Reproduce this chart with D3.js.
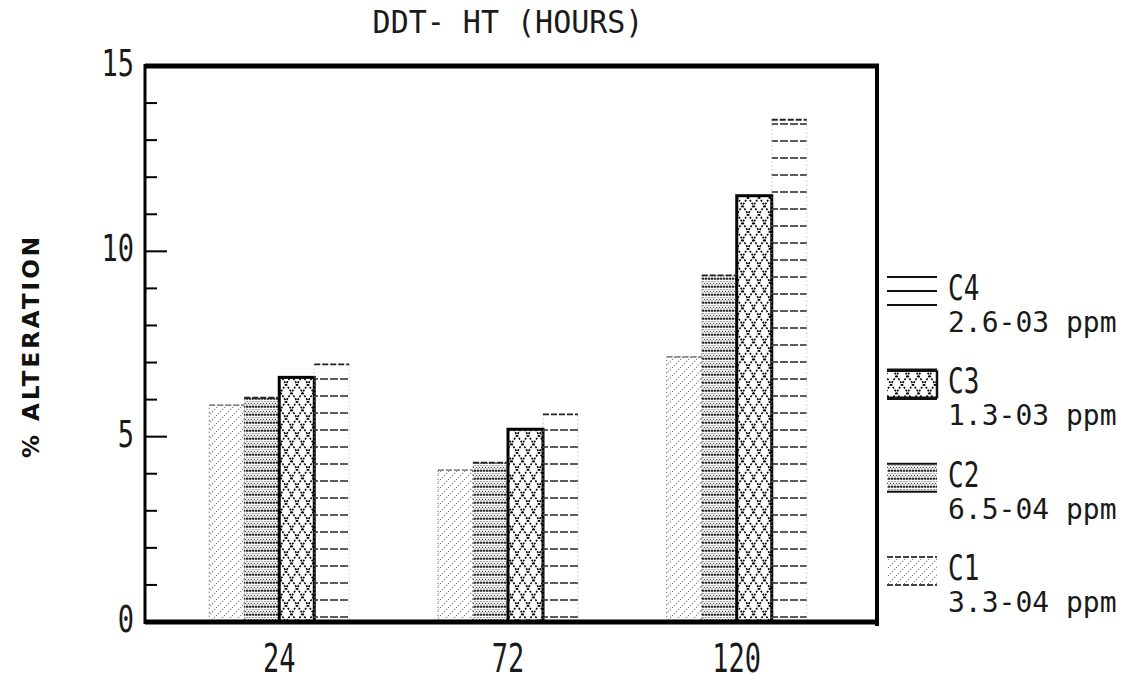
<!DOCTYPE html>
<html><head><meta charset="utf-8">
<script src="https://cdn.jsdelivr.net/npm/d3@7"></script>
<style>body{margin:0;background:#fff}</style></head>
<body><svg id="c" width="1139" height="682"></svg>
<script>
// ---- data ----
const categories = ["24", "72", "120"];
const series = ["C1", "C2", "C3", "C4"];
const concentrations = ["3.3-04", "6.5-04", "1.3-03", "2.6-03"];
const C1 = [5.85, 4.1, 7.15];
const C2 = [6.05, 4.3, 9.35];
const C3 = [6.6, 5.2, 11.5];
const C4 = [6.95, 5.6, 13.55];
const yTickLabels = [0, 5, 10, 15];
const yMinorTicks = [0,1,2,3,4,5,6,7,8,9,10,11,12,13,14,15];
const title = "DDT- HT (HOURS)";
const yLabel = "% ALTERATION";
const unit = "ppm";

const values = {C1, C2, C3, C4};

const svg = d3.select("#c");
const L = 145, R = 877, T = 66, B = 622;
const mono = "'DejaVu Sans Mono', monospace";

const x = d3.scalePoint().domain(categories).range([L - 3, R - 3]).padding(0.6);
const xs = d3.scaleBand().domain(series).range([-70, 70]);
const y = d3.scaleLinear().domain([0, 15]).range([B, T]);

// ---- patterns ----
const defs = svg.append("defs");
// C1: sparse diagonal dots
const p1 = defs.append("pattern").attr("id", "pC1").attr("patternUnits", "userSpaceOnUse")
  .attr("width", 8).attr("height", 8);
[[0.5,7.5],[2.5,5.5],[4.5,3.5],[6.5,1.5]].forEach(d =>
  p1.append("circle").attr("cx", d[0]).attr("cy", d[1]).attr("r", 0.7).attr("fill", "#888"));
// C2: dense stipple with dark rows
const p2 = defs.append("pattern").attr("id", "pC2").attr("patternUnits", "userSpaceOnUse")
  .attr("width", 6).attr("height", 8).attr("y", B);
p2.append("rect").attr("x", 0).attr("y", 0).attr("width", 2.4).attr("height", 1.7).attr("fill", "#222");
p2.append("rect").attr("x", 3).attr("y", 0).attr("width", 2.4).attr("height", 1.7).attr("fill", "#222");
[[1,3.6],[4,3.6],[2.5,5.4],[5.5,5.4],[1,7],[4,7]].forEach(d =>
  p2.append("circle").attr("cx", d[0]).attr("cy", d[1]).attr("r", 0.7).attr("fill", "#444"));
// C3: dotted diamond cross-hatch
const p3 = defs.append("pattern").attr("id", "pC3").attr("patternUnits", "userSpaceOnUse")
  .attr("width", 11).attr("height", 17).attr("y", B);
p3.append("rect").attr("width", 11).attr("height", 17).attr("fill", "#fff");
p3.append("path").attr("d", "M0,0L11,17M11,0L0,17").attr("stroke", "#000")
  .attr("stroke-width", 1.6).attr("stroke-dasharray", "2,1.4").attr("fill", "none");
// C4: horizontal lines
const p4 = defs.append("pattern").attr("id", "pC4").attr("patternUnits", "userSpaceOnUse")
  .attr("width", 10).attr("height", 17).attr("y", B);
p4.append("line").attr("x1", 0).attr("x2", 10).attr("y1", 12).attr("y2", 12)
  .attr("stroke", "#333").attr("stroke-width", 1.6).attr("stroke-dasharray", "8,2");

// ---- bars ----
const bars = [];
categories.forEach((c, i) => series.forEach(s => bars.push({c, s, v: values[s][i]})));

const g = svg.append("g");
g.selectAll("rect.bar").data(bars).join("rect")
  .attr("class", "bar")
  .attr("x", d => x(d.c) + xs(d.s))
  .attr("width", xs.bandwidth())
  .attr("y", d => y(d.v))
  .attr("height", d => y(0) - y(d.v))
  .attr("fill", d => `url(#p${d.s})`)
  .attr("stroke", d => d.s === "C3" ? "#000" : (d.s === "C4" ? "#aaa" : "#666"))
  .attr("stroke-width", d => d.s === "C3" ? 3 : 1)
  .attr("stroke-dasharray", d => d.s === "C3" ? null : "1,3");

// top edges for C1/C2/C4
g.selectAll("line.top").data(bars.filter(d => d.s !== "C3")).join("line")
  .attr("x1", d => x(d.c) + xs(d.s))
  .attr("x2", d => x(d.c) + xs(d.s) + xs.bandwidth())
  .attr("y1", d => y(d.v)).attr("y2", d => y(d.v))
  .attr("stroke", d => d.s === "C1" ? "#666" : "#222")
  .attr("stroke-width", d => d.s === "C1" ? 1.2 : 1.8)
  .attr("stroke-dasharray", "6,2");

// ---- frame ----
svg.append("line").attr("x1", L).attr("x2", R + 2).attr("y1", T).attr("y2", T)
  .attr("stroke", "#000").attr("stroke-width", 5);
svg.append("line").attr("x1", L).attr("x2", R + 2).attr("y1", B).attr("y2", B)
  .attr("stroke", "#000").attr("stroke-width", 5);
svg.append("line").attr("x1", R).attr("x2", R).attr("y1", T - 2).attr("y2", B + 4)
  .attr("stroke", "#000").attr("stroke-width", 4);
svg.append("line").attr("x1", L).attr("x2", L).attr("y1", T - 2).attr("y2", B + 2)
  .attr("stroke", "#000").attr("stroke-width", 3);

// y ticks (inward)
svg.selectAll("line.ytick").data(yMinorTicks).join("line")
  .attr("x1", L).attr("x2", d => L + (d % 5 === 0 ? 22 : 12))
  .attr("y1", d => y(d)).attr("y2", d => y(d))
  .attr("stroke", "#000").attr("stroke-width", 2);

function stretched(sel, text, tx, ty, size, sy, anchor) {
  sel.append("text").attr("transform", `translate(${tx},${ty}) scale(1,${sy})`)
    .attr("font-family", mono).attr("font-size", size).attr("fill", "#1a1a1a")
    .attr("text-anchor", anchor || "start").text(text);
}

// y tick labels
yTickLabels.forEach(v => stretched(svg, String(v), 134, y(v) + 10, 27, 1.35, "end"));

// x labels
categories.forEach(c => stretched(svg, c, x(c), 672, 27, 1.45, "middle"));

// title
stretched(svg, title, 508, 33, 30, 1.05, "middle");

// y axis label
svg.append("text").attr("transform", "translate(39,346) rotate(-90)")
  .attr("font-family", "'DejaVu Sans', sans-serif").attr("font-weight", "bold")
  .attr("font-size", 23).attr("letter-spacing", 3).attr("text-anchor", "middle")
  .attr("fill", "#111").text(yLabel);

// ---- legend ----
const legendOrder = series.slice().reverse();
const ly = d3.scalePoint().domain(legendOrder).range([290, 570]);
const lg = svg.append("g");
legendOrder.forEach(s => {
  const cy = ly(s);
  const top = cy - 13, h = 28, lx = 887, w = 50;
  if (s !== "C4") {
    lg.append("rect").attr("x", lx).attr("y", top).attr("width", w).attr("height", h)
      .attr("fill", `url(#p${s})`);
  }
  const lw = s === "C3" ? 3.5 : 2;
  const lines = s === "C4" ? [top, top + h / 2, top + h] : [top, top + h];
  lines.forEach(yy => lg.append("line").attr("x1", lx).attr("x2", lx + w)
    .attr("y1", yy).attr("y2", yy).attr("stroke", s === "C1" ? "#444" : "#111")
    .attr("stroke-width", lw).attr("stroke-dasharray", s === "C1" ? "6,2" : null));
  if (s === "C3") lg.append("line").attr("x1", lx + w).attr("x2", lx + w)
    .attr("y1", top).attr("y2", top + h).attr("stroke", "#111").attr("stroke-width", 2.5);
  stretched(lg, s, 948, cy + 10, 26, 1.35, "start");
  const ci = series.indexOf(s);
  lg.append("text").attr("x", 948).attr("y", cy + 42)
    .attr("font-family", mono).attr("font-size", 28).attr("fill", "#1a1a1a")
    .attr("xml:space", "preserve").text(concentrations[ci] + " " + unit);
});
</script></body></html>
